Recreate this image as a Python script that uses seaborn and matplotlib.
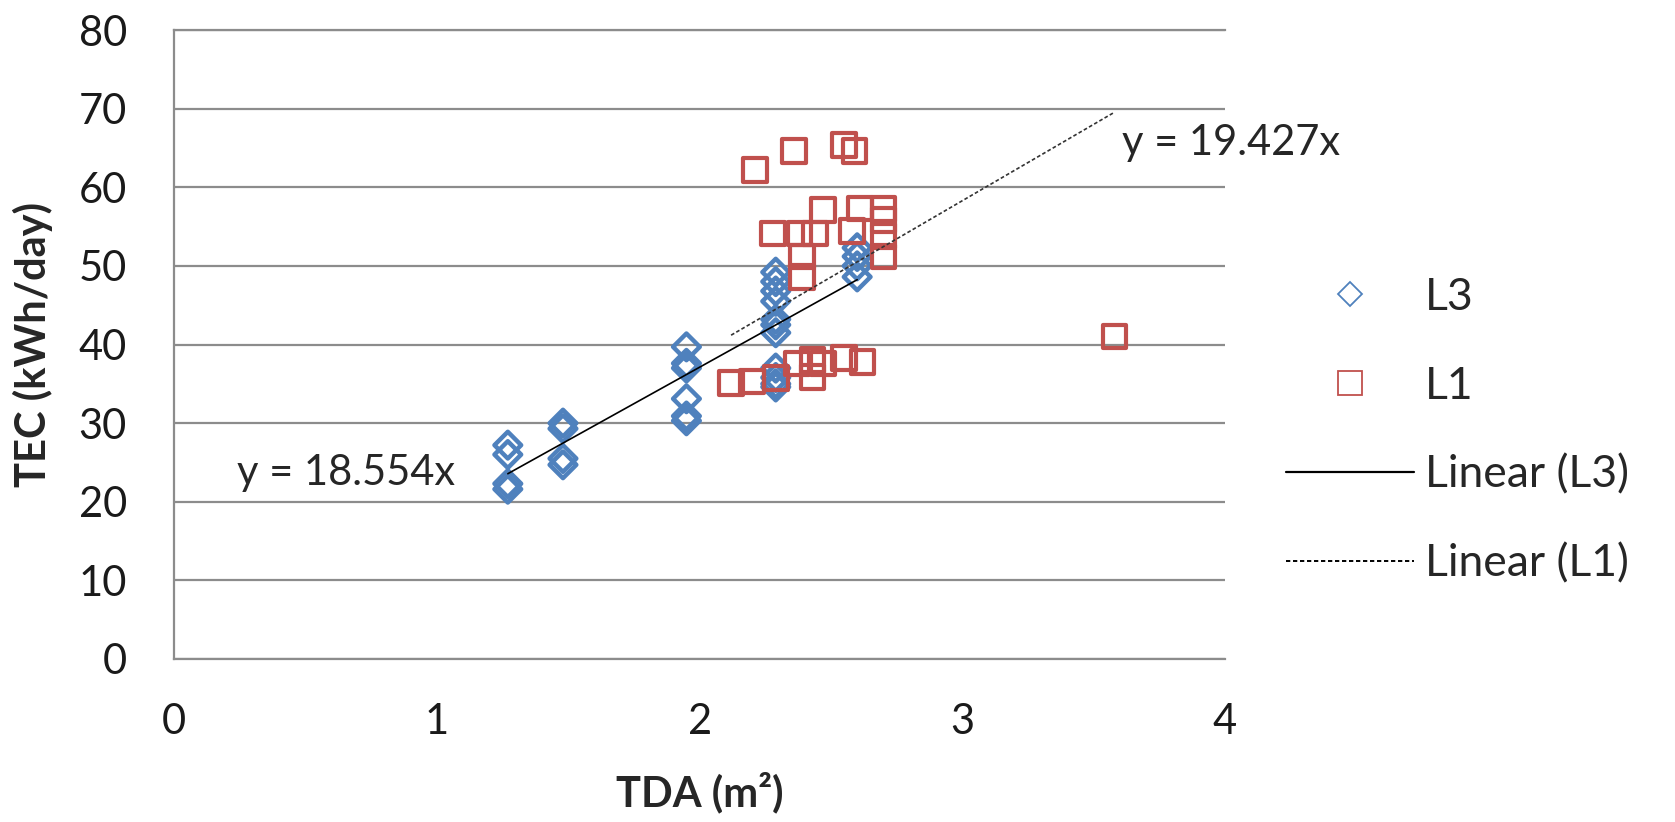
import numpy as np
import pandas as pd
import matplotlib
matplotlib.use("Agg")
import matplotlib.pyplot as plt
import seaborn as sns
from matplotlib.lines import Line2D

# TDA (m2) / TEC (kWh/day) readings for each group
l3_tda = [1.27, 1.27, 1.27, 1.27,
          1.48, 1.48, 1.48, 1.48,
          1.95, 1.95, 1.95, 1.95, 1.95, 1.95,
          2.29, 2.29, 2.29, 2.29, 2.29, 2.29, 2.29, 2.29, 2.29, 2.29, 2.29,
          2.60, 2.60, 2.60, 2.60]
l3_tec = [27.2, 26.0, 22.3, 21.6,
          30.0, 29.3, 25.5, 24.7,
          39.7, 37.6, 37.0, 33.1, 30.9, 30.3,
          49.2, 48.0, 46.8, 45.5, 43.2, 42.5, 41.5, 37.0, 35.8, 35.0, 34.6,
          52.3, 51.2, 50.0, 48.6]

l1_tda = [2.21, 2.36, 2.55, 2.59,
          2.47, 2.28, 2.38, 2.44, 2.39, 2.39, 2.61, 2.58,
          2.70, 2.70, 2.70, 2.70,
          2.12, 2.20, 2.29, 2.37, 2.43, 2.43, 2.47, 2.55, 2.62,
          3.58]
l1_tec = [62.2, 64.6, 65.4, 64.6,
          57.1, 54.1, 54.1, 54.1, 51.2, 48.6, 57.3, 54.4,
          57.2, 55.8, 53.8, 51.2,
          35.1, 35.3, 35.7, 37.6, 35.9, 38.0, 37.6, 38.3, 37.8,
          41.0]

# trendline slopes (linear fit through origin, as labelled)
l3_slope = 18.554
l1_slope = 19.427

blue = "#4F81BD"
red = "#C0504D"
grid_gray = "#8C8C8C"

sns.set_style("white")
plt.rcParams["font.family"] = ["Lato", "DejaVu Sans"]

fig = plt.figure(figsize=(16.75, 8.22), dpi=100)
ax = fig.add_axes([0.104, 0.1983, 0.6273, 0.7652])

df3 = pd.DataFrame({"TDA": l3_tda, "TEC": l3_tec})
df1 = pd.DataFrame({"TDA": l1_tda, "TEC": l1_tec})

# Trendlines over the range of each series
fit3 = pd.DataFrame({"TDA": [df3.TDA.min(), df3.TDA.max()]})
fit3["TEC"] = l3_slope * fit3.TDA
fit1 = pd.DataFrame({"TDA": [df1.TDA.min(), df1.TDA.max()]})
fit1["TEC"] = l1_slope * fit1.TDA

sns.scatterplot(data=df3, x="TDA", y="TEC", marker="D", s=185, color=blue,
                facecolor="none", edgecolor=blue, linewidth=3.2, ax=ax, zorder=3)
sns.scatterplot(data=df1, x="TDA", y="TEC", marker="s", s=290, color=red,
                facecolor="none", edgecolor=red, linewidth=3.0, ax=ax, zorder=3)
sns.lineplot(data=fit3, x="TDA", y="TEC", color="black", linewidth=1.2, ax=ax, zorder=4)
sns.lineplot(data=fit1, x="TDA", y="TEC", color="#333333", linewidth=1.2,
             dashes=False, ax=ax, zorder=4)
ax.lines[-1].set_dashes((2.2, 1.4))

ax.text(0.24, 23.7, f"y = {l3_slope}x", fontsize=30, va="center", ha="left")
ax.text(3.61, 65.6, f"y = {l1_slope}x", fontsize=30, va="center", ha="left")

# Axes styling
ax.set_xlim(0, 4)
ax.set_ylim(0, 80)
ax.set_xticks(range(0, 5))
ax.set_yticks(range(0, 90, 10))
ax.yaxis.grid(True, color=grid_gray, linewidth=1.6)
ax.xaxis.grid(False)
for side in ["left", "bottom", "top"]:
    ax.spines[side].set_color(grid_gray)
    ax.spines[side].set_linewidth(1.6)
ax.spines["right"].set_visible(False)
ax.tick_params(axis="y", length=0, pad=34, labelsize=30, labelcolor="#1a1a1a")
ax.tick_params(axis="x", direction="in", length=6, width=1.6, color=grid_gray,
               pad=32, labelsize=30, labelcolor="#1a1a1a")

ax.set_ylabel("TEC (kWh/day)", fontsize=30, fontweight="bold")
ax.set_xlabel("TDA (m\u00b2)", fontsize=30, fontweight="bold")
ax.yaxis.set_label_coords(-0.1345, 0.50)
ax.xaxis.set_label_coords(0.5, -0.213)
ax.xaxis.label.set_va("center")
ax.yaxis.label.set_va("center")

handles = [
    Line2D([], [], marker="D", linestyle="none", markersize=12,
           markerfacecolor="none", markeredgecolor=blue, markeredgewidth=1.3),
    Line2D([], [], marker="s", linestyle="none", markersize=17,
           markerfacecolor="none", markeredgecolor=red, markeredgewidth=1.3),
    Line2D([], [], color="black", linewidth=1.6),
    Line2D([], [], color="black", linewidth=1.4, dashes=(2.2, 1.4)),
]
fig.legend(handles, ["L3", "L1", "Linear (L3)", "Linear (L1)"],
           loc="center left", bbox_to_anchor=(0.768, 0.476), frameon=False,
           fontsize=32, borderpad=0, borderaxespad=0, handlelength=2.88,
           handletextpad=0.24, labelspacing=1.08)

fig.savefig("out.png", dpi=100, facecolor="white")
